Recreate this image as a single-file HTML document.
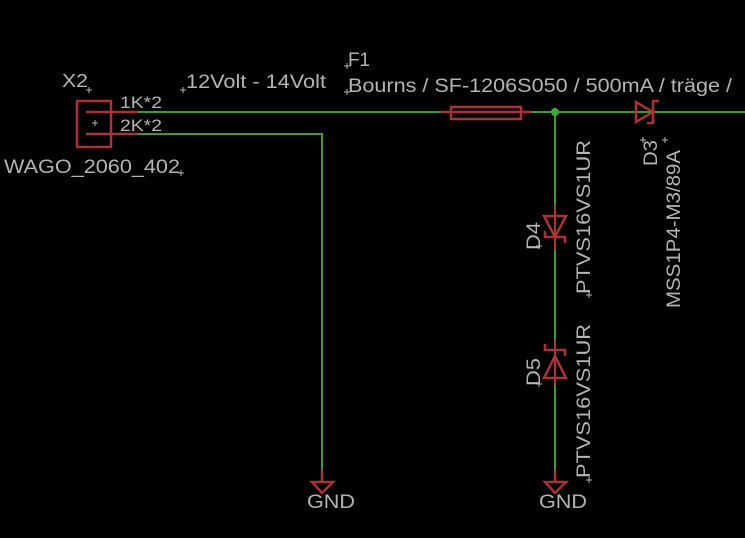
<!DOCTYPE html>
<html><head><style>
html,body{margin:0;padding:0;background:#000;}
svg{display:block}
text{font-family:"Liberation Sans",sans-serif;fill:#b4b4b4;}
</style></head><body>
<svg width="745" height="538" viewBox="0 0 745 538" xmlns="http://www.w3.org/2000/svg">
<g stroke="#3c9a3c" stroke-width="2" fill="none">
<line x1="138" y1="112" x2="745" y2="112"/>
<polyline points="138,134 322,134 322,470"/>
<line x1="555" y1="112" x2="555" y2="470"/>
</g>
<circle cx="555" cy="112" r="4" fill="#3cab3c"/>
<g stroke="#a8343a" stroke-width="2.5" fill="none">
<rect x="77" y="101" width="34" height="46"/>
<line x1="86" y1="112" x2="138" y2="112"/>
<line x1="86" y1="134" x2="138" y2="134"/>
<rect x="451" y="107" width="70" height="12"/>
<line x1="441" y1="112" x2="531" y2="112"/>
<polygon points="636,102 636,122 653,112"/>
<polyline points="659,101 653,101 653,123 647,123"/>
<polygon points="544,216 566,216 555,237"/>
<polyline points="545,231 545,237 565,237 565,243"/>
<line x1="555" y1="205" x2="555" y2="250" stroke-width="2"/>
<polygon points="544,378 566,378 555,356"/>
<polyline points="545,344 545,350 565,350 565,356"/>
<line x1="555" y1="340" x2="555" y2="385" stroke-width="2"/>
<line x1="322" y1="470" x2="322" y2="482"/>
<polygon points="312,482 333,482 322,493"/>
<line x1="555" y1="470" x2="555" y2="482"/>
<polygon points="545,482 566,482 555,493"/>
</g>
<g stroke="#b4b4b4" stroke-width="1">
<path d="M92 123h6M95 120v6"/>
<path d="M86 90h6M89 87v6"/>
<path d="M178 173h6M181 170v6"/>
<path d="M180 90h6M183 87v6"/>
<path d="M344 66h6M347 63v6"/>
<path d="M344 92h6M347 89v6"/>
<path d="M536 246h6M539 243v6"/>
<path d="M586 295h6M589 292v6"/>
<path d="M640 140h6M643 137v6"/>
<path d="M662 140h6M665 137v6"/>
<path d="M536 384h6M539 381v6"/>
<path d="M586 480h6M589 477v6"/>
</g>
<text x="62" y="87" font-size="18" textLength="26" lengthAdjust="spacingAndGlyphs">X2</text>
<text x="120" y="108" font-size="17" textLength="42" lengthAdjust="spacingAndGlyphs">1K*2</text>
<text x="120" y="131" font-size="17" textLength="42" lengthAdjust="spacingAndGlyphs">2K*2</text>
<text x="4" y="173" font-size="19" textLength="176" lengthAdjust="spacingAndGlyphs">WAGO_2060_402</text>
<text x="186" y="88" font-size="19" textLength="140" lengthAdjust="spacingAndGlyphs">12Volt - 14Volt</text>
<text x="348" y="66" font-size="19" textLength="22" lengthAdjust="spacingAndGlyphs">F1</text>
<text x="348" y="92" font-size="19" textLength="384" lengthAdjust="spacingAndGlyphs">Bourns / SF-1206S050 / 500mA / träge /</text>
<text transform="translate(590,294) rotate(-90)" font-size="19" textLength="154" lengthAdjust="spacingAndGlyphs">PTVS16VS1UR</text>
<text transform="translate(540,250) rotate(-90)" font-size="19" textLength="28" lengthAdjust="spacingAndGlyphs">D4</text>
<text transform="translate(657,166) rotate(-90)" font-size="19" textLength="26" lengthAdjust="spacingAndGlyphs">D3</text>
<text transform="translate(680,308) rotate(-90)" font-size="19" textLength="158" lengthAdjust="spacingAndGlyphs">MSS1P4-M3/89A</text>
<text transform="translate(540,386) rotate(-90)" font-size="19" textLength="28" lengthAdjust="spacingAndGlyphs">D5</text>
<text transform="translate(590,478) rotate(-90)" font-size="19" textLength="154" lengthAdjust="spacingAndGlyphs">PTVS16VS1UR</text>
<text x="307" y="508" font-size="19" textLength="48" lengthAdjust="spacingAndGlyphs">GND</text>
<text x="539" y="508" font-size="19" textLength="48" lengthAdjust="spacingAndGlyphs">GND</text>
</svg>
</body></html>
